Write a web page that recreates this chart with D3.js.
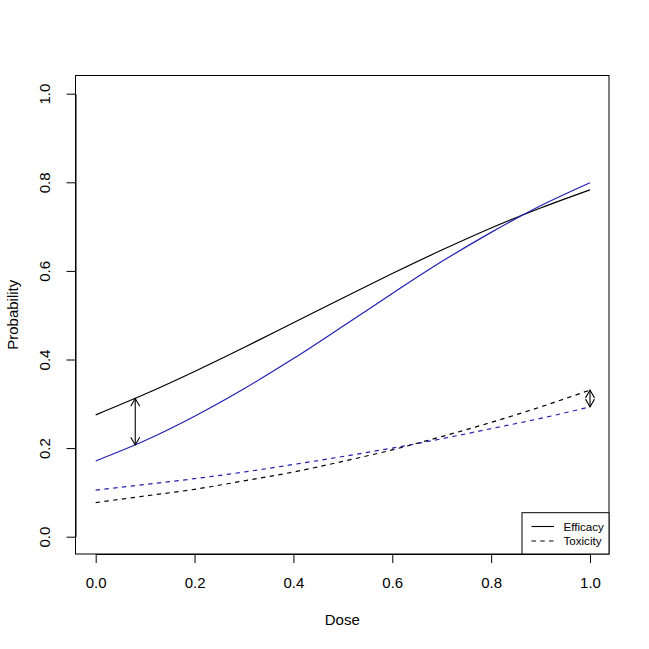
<!DOCTYPE html>
<html>
<head>
<meta charset="utf-8">
<script src="https://cdn.jsdelivr.net/npm/d3@7"></script>
<style>
  html, body { margin: 0; padding: 0; background: #fff; }
  svg { display: block; font-family: "Liberation Sans", Arial, Helvetica, sans-serif; }
</style>
</head>
<body>
<svg id="chart" width="649" height="649"></svg>
<script>
// ---- data ----
const doses = [0.0, 0.1, 0.2, 0.3, 0.4, 0.5, 0.6, 0.7, 0.8, 0.9, 1.0];
const efficacyBlack = [0.275, 0.322, 0.373, 0.427, 0.483, 0.539, 0.594, 0.647, 0.697, 0.742, 0.783];
const efficacyBlue  = [0.171, 0.217, 0.272, 0.334, 0.402, 0.475, 0.549, 0.621, 0.687, 0.747, 0.799];
const toxicityBlack = [0.077, 0.092, 0.107, 0.126, 0.146, 0.170, 0.196, 0.226, 0.258, 0.293, 0.331];
const toxicityBlue  = [0.105, 0.118, 0.131, 0.146, 0.163, 0.181, 0.200, 0.221, 0.244, 0.267, 0.293];
const arrowDose = [0.08, 1.0];
const arrowFrom = [0.312, 0.331];
const arrowTo   = [0.207, 0.293];
const xTicks = [0.0, 0.2, 0.4, 0.6, 0.8, 1.0];
const yTicks = [0.0, 0.2, 0.4, 0.6, 0.8, 1.0];
const legendLabels = ["Efficacy", "Toxicity"];

// ---- layout ----
const box = { left: 75.5, top: 75.5, right: 609, bottom: 554 };
const BLUE = "#2020b0";
const FS = 15;
const svg = d3.select("#chart");

const x = d3.scaleLinear().domain([0, 1]).range([95.7, 590]);
const y = d3.scaleLinear().domain([0, 1]).range([536.7, 93.7]);

// curves
const line = d3.line().x(d => x(d[0])).y(d => y(d[1])).curve(d3.curveMonotoneX);
const series = [
  { v: efficacyBlack, color: "#000", dash: null },
  { v: efficacyBlue, color: BLUE, dash: null },
  { v: toxicityBlack, color: "#000", dash: "4.4,4.4" },
  { v: toxicityBlue, color: BLUE, dash: "4.4,4.4" }
];
series.forEach(s => {
  svg.append("path")
    .attr("d", line(doses.map((d, i) => [d, s.v[i]])))
    .attr("fill", "none")
    .attr("stroke", s.color)
    .attr("stroke-width", 1.2)
    .attr("stroke-dasharray", s.dash);
});

// arrows (both ends)
const headLen = 9, headAng = Math.PI / 6;
arrowDose.forEach((d, i) => {
  const ax = x(d), y1 = y(arrowFrom[i]), y2 = y(arrowTo[i]);
  const g = svg.append("g").attr("stroke", "#000").attr("stroke-width", 1.1).attr("fill", "none");
  g.append("line").attr("x1", ax).attr("x2", ax).attr("y1", y1).attr("y2", y2);
  const dir = y2 > y1 ? 1 : -1;
  const dx = headLen * Math.sin(headAng), dy = headLen * Math.cos(headAng);
  g.append("path").attr("d", `M${ax - dx},${y1 + dir * dy}L${ax},${y1}L${ax + dx},${y1 + dir * dy}`);
  g.append("path").attr("d", `M${ax - dx},${y2 - dir * dy}L${ax},${y2}L${ax + dx},${y2 - dir * dy}`);
});

// plot box
svg.append("rect")
  .attr("x", box.left).attr("y", box.top)
  .attr("width", box.right - box.left).attr("height", box.bottom - box.top)
  .attr("fill", "none").attr("stroke", "#000").attr("stroke-width", 1);

// x axis
const xAxis = svg.append("g")
  .attr("transform", `translate(0,${box.bottom})`)
  .call(d3.axisBottom(x).tickValues(xTicks).tickFormat(d3.format(".1f")).tickSize(9).tickSizeOuter(0));
xAxis.selectAll("text")
  .attr("font-size", FS).attr("fill", "#000").attr("font-family", "Liberation Sans, Arial, sans-serif")
  .attr("y", 588 - box.bottom).attr("dy", null);
xAxis.selectAll("line, path").attr("stroke", "#000");

// y axis
const yAxis = svg.append("g")
  .attr("transform", `translate(${box.left},0)`)
  .call(d3.axisLeft(y).tickValues(yTicks).tickFormat(d3.format(".1f")).tickSize(9).tickSizeOuter(0));
yAxis.selectAll("text")
  .attr("font-size", FS).attr("fill", "#000").attr("font-family", "Liberation Sans, Arial, sans-serif")
  .attr("text-anchor", "middle")
  .attr("x", 0).attr("y", -26).attr("dy", null)
  .attr("transform", "rotate(-90)");
yAxis.selectAll("line, path").attr("stroke", "#000");

// axis titles
svg.append("text")
  .attr("x", (box.left + box.right) / 2).attr("y", 625)
  .attr("text-anchor", "middle").attr("font-size", FS).text("Dose");
svg.append("text")
  .attr("transform", `translate(17.5,${(box.top + box.bottom) / 2}) rotate(-90)`)
  .attr("text-anchor", "middle").attr("font-size", FS).text("Probability");

// legend
const lg = svg.append("g");
lg.append("rect")
  .attr("x", 522).attr("y", 512.7).attr("width", box.right - 522).attr("height", box.bottom - 512.7)
  .attr("fill", "#fff").attr("stroke", "#000").attr("stroke-width", 1);
legendLabels.forEach((lab, i) => {
  const ly = 526.5 + i * 14.5;
  lg.append("line").attr("x1", 531.5).attr("x2", 554).attr("y1", ly).attr("y2", ly)
    .attr("stroke", "#000").attr("stroke-width", 1.1)
    .attr("stroke-dasharray", i === 1 ? "4.4,4.4" : null);
  lg.append("text").attr("x", 563.5).attr("y", ly).attr("dy", "0.35em")
    .attr("font-size", 11.6).text(lab);
});
</script>
</body>
</html>
